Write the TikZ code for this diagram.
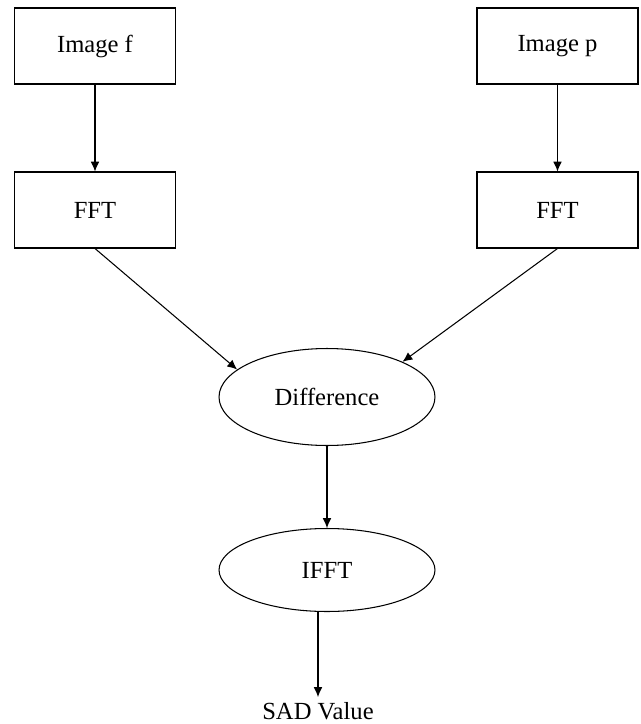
\documentclass[tikz,border=0pt]{standalone}
\usepackage{fontspec}
\setmainfont{Liberation Serif}
\usetikzlibrary{shapes.geometric,arrows.meta}

\begin{document}
\begin{tikzpicture}[->,>={Latex[length=5.6pt,width=5pt]},semithick,x=0.02cm,y=-0.02cm,
    font=\fontsize{14}{16}\selectfont,
    blk/.style={draw,minimum width=3.22cm,minimum height=1.52cm,inner sep=0},
    oval/.style={draw,ellipse,inner sep=0,minimum width=4.32cm}]

\useasboundingbox (0,0) rectangle (641,724);

\node (imgf) at (95,46) [blk] {Image f};
\node (imgp) at (557.5,46) [blk] {Image p};

\node (fftf) at (95,210) [blk] {FFT};
\node (fftp) at (557.5,210) [blk] {FFT};

\node (diff) at (327,397) [oval,minimum height=1.94cm] {Difference};
\node (ifft) at (327,570) [oval,minimum height=1.66cm] {IFFT};

\node (sad) at (318,697) [anchor=north,inner sep=3pt] {SAD Value};

\path [->]
    (imgf.south) edge (fftf.north)
    (imgp.south) edge (fftp.north)
    (fftf.south) edge (diff.163)
    (fftp.south) edge (diff.25)
    (diff.south) edge (ifft.north)
    (ifft.south -| sad.north) edge (sad.north)
;

\end{tikzpicture}
\end{document}
